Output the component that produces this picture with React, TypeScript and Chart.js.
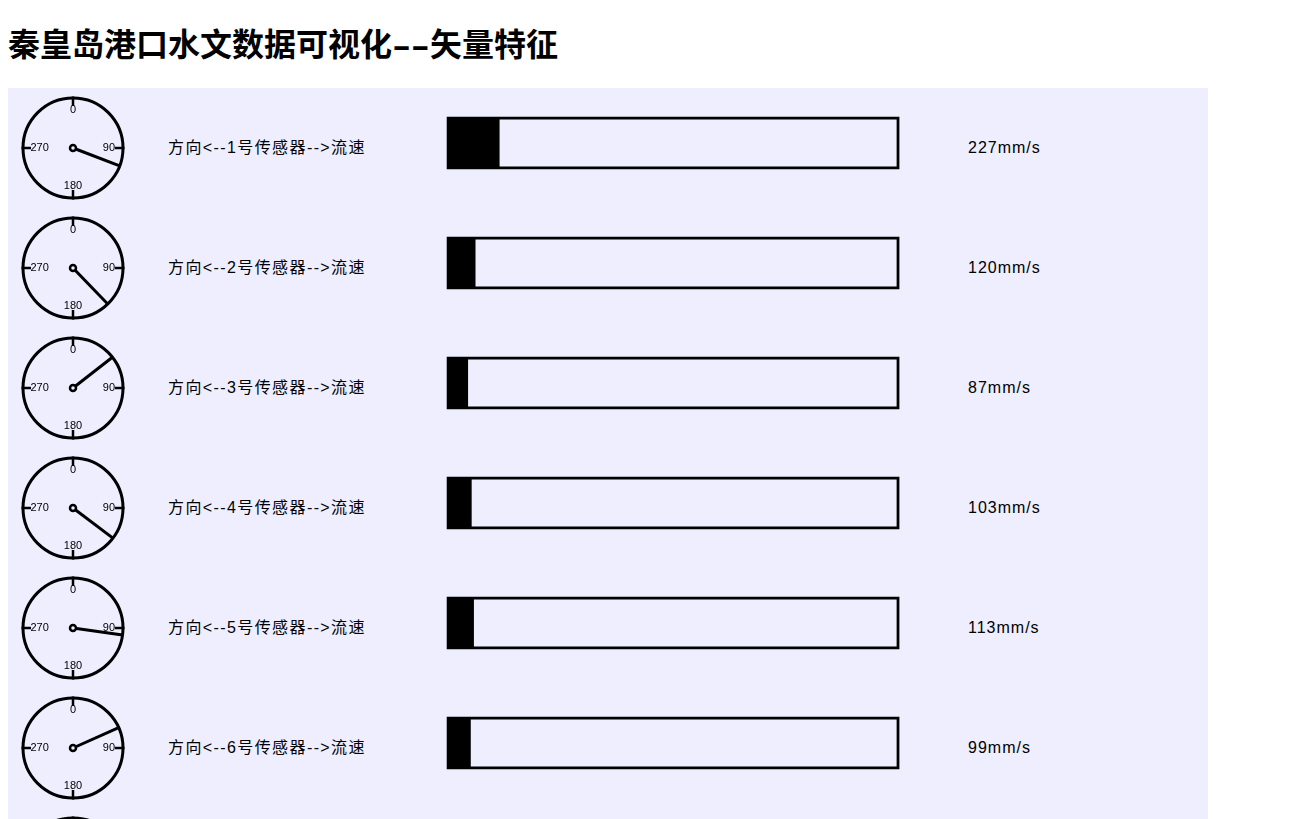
import React, { useEffect, useRef } from 'react';
import { Chart, registerables } from 'chart.js';

Chart.register(...registerables);

// ---- data ----
const sensorNames = ['1号传感器', '2号传感器', '3号传感器', '4号传感器', '5号传感器', '6号传感器', '7号传感器'];
const directions = [111, 136, 52, 127, 98, 66, 80]; // degrees, clockwise from north
const speeds = [227, 120, 87, 103, 113, 99, 105]; // mm/s
const speedMin = 0;
const speedMax = 2000;
const compassLabels = ['0', '90', '180', '270'];
const titleParts = ['秦皇岛港口水文数据可视化', '--', '矢量特征'];

// ---- layout ----
const PANEL_W = 1200;
const ROW_H = 120;
const PANEL_H = ROW_H * sensorNames.length;
const BG = '#eeeeff';
const UNIT_PX = 50; // compass radius in px
const ROW_UNITS = ROW_H / UNIT_PX;
const TRACK_PAD = 9; // track border extends slightly beyond the value range

function CompassChart() {
  const ref = useRef<HTMLCanvasElement>(null);
  useEffect(() => {
    const canvas = ref.current!;
    const decor = {
      id: 'compassDecor',
      beforeDatasetsDraw(chart: any) {
        const { ctx, scales } = chart;
        const xs = scales.x, ys = scales.y;
        const r = xs.getPixelForValue(1) - xs.getPixelForValue(0);
        ctx.save();
        sensorNames.forEach((_, i) => {
          const cx = xs.getPixelForValue(0);
          const cy = ys.getPixelForValue(-i * ROW_UNITS);
          ctx.strokeStyle = '#000';
          ctx.lineWidth = 3;
          ctx.beginPath();
          ctx.arc(cx, cy, r, 0, Math.PI * 2);
          ctx.stroke();
          ctx.lineWidth = 2.5;
          [0, 90, 180, 270].forEach((deg) => {
            const a = (deg * Math.PI) / 180;
            const sx = Math.sin(a), sy = -Math.cos(a);
            ctx.beginPath();
            ctx.moveTo(cx + sx * r * 0.84, cy + sy * r * 0.84);
            ctx.lineTo(cx + sx * r * 1.03, cy + sy * r * 1.03);
            ctx.stroke();
          });
          ctx.fillStyle = '#000';
          ctx.font = '11px "Liberation Sans", Arial, sans-serif';
          ctx.textBaseline = 'middle';
          ctx.textAlign = 'center';
          ctx.fillText(compassLabels[0], cx, cy - r * 0.76);
          ctx.fillText(compassLabels[2], cx, cy + r * 0.75);
          ctx.textAlign = 'right';
          ctx.fillText(compassLabels[1], cx + r * 0.84, cy);
          ctx.textAlign = 'left';
          ctx.fillText(compassLabels[3], cx - r * 0.85, cy);
        });
        ctx.restore();
      },
      afterDatasetsDraw(chart: any) {
        const { ctx, scales } = chart;
        ctx.save();
        sensorNames.forEach((_, i) => {
          const cx = scales.x.getPixelForValue(0);
          const cy = scales.y.getPixelForValue(-i * ROW_UNITS);
          ctx.beginPath();
          ctx.arc(cx, cy, 3, 0, Math.PI * 2);
          ctx.fillStyle = BG;
          ctx.fill();
          ctx.lineWidth = 2.5;
          ctx.strokeStyle = '#000';
          ctx.stroke();
        });
        ctx.restore();
      },
    };
    const datasets = directions.map((d, i) => {
      const a = (d * Math.PI) / 180;
      return {
        label: sensorNames[i],
        data: [
          { x: 0, y: -i * ROW_UNITS },
          { x: Math.sin(a), y: -i * ROW_UNITS + Math.cos(a) },
        ],
        showLine: true,
        borderColor: '#000',
        borderWidth: 3,
        borderCapStyle: 'butt',
        pointRadius: 0,
        clip: false,
      };
    });
    const chart = new Chart(canvas, {
      type: 'scatter',
      data: { datasets: datasets as any },
      options: {
        animation: false,
        responsive: false,
        devicePixelRatio: 1,
        layout: { padding: 0 },
        plugins: { legend: { display: false }, tooltip: { enabled: false } },
        scales: {
          x: { display: false, min: -1.2, max: 1.2 },
          y: { display: false, min: 1.2 - PANEL_H / UNIT_PX, max: 1.2 },
        },
      },
      plugins: [decor],
    });
    return () => chart.destroy();
  }, []);
  return (
    <canvas
      ref={ref}
      width={120}
      height={PANEL_H}
      style={{ position: 'absolute', left: 5, top: 0, width: 120, height: PANEL_H }}
    />
  );
}

function BarsChart() {
  const ref = useRef<HTMLCanvasElement>(null);
  useEffect(() => {
    const chart = new Chart(ref.current!, {
      type: 'bar',
      data: {
        labels: sensorNames,
        datasets: [
          {
            label: '流速',
            data: speeds,
            backgroundColor: '#000',
            borderWidth: 0,
            inflateAmount: 0,
            barThickness: 52,
            grouped: false,
          },
          {
            label: 'track',
            data: sensorNames.map(() => [speedMin - TRACK_PAD, speedMax + 5]) as any,
            backgroundColor: 'rgba(0,0,0,0)',
            borderColor: '#000',
            borderWidth: 3,
            borderSkipped: false,
            inflateAmount: 0,
            barThickness: 53,
            grouped: false,
          },
        ],
      },
      options: {
        indexAxis: 'y',
        animation: false,
        responsive: false,
        devicePixelRatio: 1,
        layout: { padding: 0 },
        plugins: { legend: { display: false }, tooltip: { enabled: false } },
        scales: {
          x: { display: false, min: -20, max: 2020 },
          y: { display: false },
        },
      },
    });
    return () => chart.destroy();
  }, []);
  return (
    <canvas
      ref={ref}
      width={459}
      height={PANEL_H}
      style={{ position: 'absolute', left: 436, top: -5, width: 459, height: PANEL_H }}
    />
  );
}

export default function App() {
  useEffect(() => {
    document.documentElement.style.overflow = 'hidden';
    document.body.style.overflow = 'hidden';
  }, []);
  const textFont = '"Liberation Sans", Arial, "Noto Sans CJK SC", sans-serif';
  return (
    <div style={{ paddingTop: 14 }}>
      <h1
        style={{
          margin: 0,
          fontSize: 32,
          lineHeight: '46px',
          height: 46,
          fontWeight: 'bold',
          fontFamily: '"Liberation Sans", "Noto Sans CJK SC", sans-serif',
          whiteSpace: 'nowrap',
        }}
      >
        {titleParts[0]}
        <span
          style={{
            display: 'inline-block',
            width: 38,
            textAlign: 'center',
            transform: 'scaleX(1.75)',
          }}
        >
          {titleParts[1]}
        </span>
        {titleParts[2]}
      </h1>
      <div
        style={{
          position: 'relative',
          marginTop: 20,
          width: PANEL_W,
          height: PANEL_H,
          background: BG,
        }}
      >
        <CompassChart />
        {sensorNames.map((name, i) => (
          <div
            key={'l' + i}
            style={{
              position: 'absolute',
              left: 160,
              top: 60 + i * ROW_H - 12,
              height: 24,
              lineHeight: '24px',
              fontSize: 16,
              letterSpacing: '1.4px',
              fontFamily: textFont,
              whiteSpace: 'nowrap',
            }}
          >
            {'方向<--' + name + '-->流速'}
          </div>
        ))}
        <BarsChart />
        {speeds.map((v, i) => (
          <div
            key={'v' + i}
            style={{
              position: 'absolute',
              left: 960,
              top: 60 + i * ROW_H - 12,
              height: 24,
              lineHeight: '24px',
              fontSize: 16,
              letterSpacing: '1px',
              fontFamily: textFont,
              whiteSpace: 'nowrap',
            }}
          >
            {v + 'mm/s'}
          </div>
        ))}
      </div>
    </div>
  );
}
